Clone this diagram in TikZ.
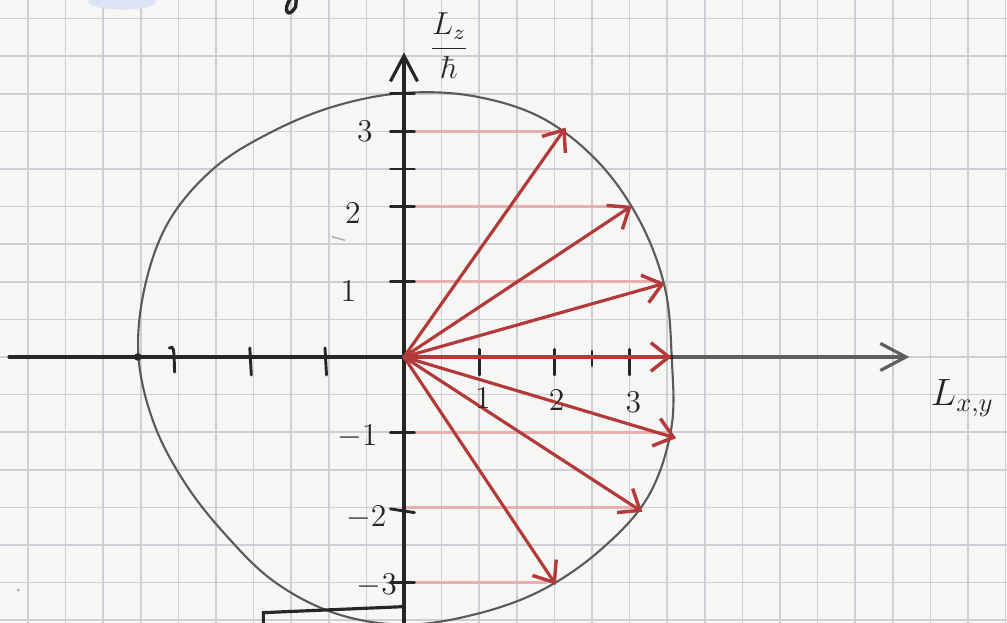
\documentclass[tikz,border=0pt]{standalone}
\usetikzlibrary{arrows.meta}
\definecolor{paper}{HTML}{F6F6F4}
\definecolor{gridc}{HTML}{CDCED6}
\definecolor{pencil}{HTML}{262626}
\definecolor{pencillight}{HTML}{5E5E5E}
\definecolor{circc}{HTML}{5A5A5A}
\definecolor{redv}{HTML}{B23A3A}
\definecolor{pinkl}{HTML}{E9AFAF}
\definecolor{bluesm}{HTML}{DCE3F4}
\tikzset{
  gridline/.style={gridc, line width=0.6pt},
  axisline/.style={pencil, line width=1.3pt, line cap=round},
  chev/.style={-{Straight Barb[length=3.4mm,width=3.6mm,line width=1.2pt]}},
  tickmark/.style={pencil, line width=1.1pt, line cap=round},
  vec/.style={redv, line width=1.2pt, line cap=round, -{Straight Barb[length=2.4mm,width=3.8mm,line width=1.3pt]}},
  proj/.style={pinkl, line width=1.1pt},
  ring/.style={circc, line width=0.8pt},
  lab/.style={pencil, inner sep=0pt, font=\large},
}
\begin{document}
\begin{tikzpicture}
\useasboundingbox (-5.372,-3.537) rectangle (8.019,4.747);
\clip (-5.372,-3.537) rectangle (8.019,4.747);
\fill[paper] (-5.372,-3.537) rectangle (8.019,4.747);
\draw[gridline] (-5.5,-4) grid[step=0.5] (8.5,5);

% faint marks
\fill[bluesm] (-3.75,4.72) ellipse (0.45 and 0.1);
\draw[pencil, line width=1.3pt] (-1.50,4.78) .. controls (-1.63,4.60) and (-1.53,4.49) .. (-1.44,4.66) -- (-1.43,4.78);
\draw[gray!60, line width=0.6pt] (-0.96,1.60) -- (-0.78,1.55);
\fill[gray!70] (-5.13,-3.1) circle (0.02);

% named points
\coordinate (O) at (0,0);
\coordinate (t3) at (2.15,3.05);
\coordinate (t2) at (3.03,2.01);
\coordinate (t1) at (3.47,0.98);
\coordinate (t0) at (3.56,0);
\coordinate (m1) at (3.62,-1.08);
\coordinate (m2) at (3.17,-2.06);
\coordinate (m3) at (2.02,-3.03);
\coordinate (p3) at (0,3);
\coordinate (p2) at (0,2);
\coordinate (p1) at (0,1);
\coordinate (q1) at (0,-1);
\coordinate (q2) at (0,-2);
\coordinate (q3) at (0,-3);
\coordinate (ybot) at (0,-3.6);
\coordinate (ytop) at (0,4.05);
\coordinate (xleft) at (-5.25,0);
\coordinate (xmid) at (3.6,0);
\coordinate (xright) at (6.72,0);

% projection lines
\draw[proj] (p3) -- (1.95,3);
\draw[proj] (p2) -- (2.9,2);
\draw[proj] (p1) -- (3.4,1);
\draw[proj] (q1) -- (3.5,-1);
\draw[proj] (q2) -- (3.05,-2);
\draw[proj] (q3) -- (1.9,-3);

% circle of length sqrt(12), hand drawn
\draw[ring] plot[smooth cycle, tension=0.6] coordinates {
 (0:3.56) (15:3.59) (30:3.62) (45:3.66) (60:3.67) (75:3.59) (90:3.51) (105:3.46)
 (120:3.47) (135:3.56) (150:3.61) (165:3.57) (180:3.53) (195:3.44) (210:3.36) (225:3.35)
 (240:3.45) (255:3.53) (270:3.56) (285:3.55) (300:3.6) (315:3.66) (330:3.74) (345:3.68)};

% axes
\draw[axisline, chev] (ybot) -- (ytop);
\draw[axisline] (xleft) -- (xmid);
\draw[axisline, pencillight, chev] (xmid) -- (xright);

% ticks on L_z axis
\foreach \yy in {3.5,3,2.5,2,1,-1,-3} \draw[tickmark] (-0.18,\yy) -- (0.14,\yy);
\draw[tickmark] (-0.18,-2.02) -- (0.14,-2.07);
% ticks on L_xy axis
\foreach \xx in {1,2,3} \draw[tickmark] (\xx,0.1) -- (\xx,-0.24);
\draw[tickmark, line width=0.7pt] (2.5,0.08) -- (2.5,-0.12);
\foreach \xx in {-1.05,-2.05} \draw[tickmark] (\xx,0.12) -- (\xx+0.02,-0.24);
\draw[tickmark] (-3.12,0.12) .. controls (-3.06,0.14) .. (-3.05,-0.2);
\fill[pencil] (-3.54,0) circle (0.05);

% vectors
\draw[vec] (O) -- (t3);
\draw[vec] (O) -- (t2);
\draw[vec] (O) -- (t1);
\draw[vec] (O) -- (t0);
\draw[vec] (O) -- (m1);
\draw[vec] (O) -- (m2);
\draw[vec] (O) -- (m3);

% bottom-left partial box
\coordinate (b1) at (-1.87,-3.40);
\coordinate (b2) at (0,-3.32);
\coordinate (b0) at (-1.87,-3.6);
\draw[axisline, line width=1.2pt] (b0) -- (b1) -- (b2);

% labels
\node[lab] (l3) at (-0.52,3.0) {3};
\node[lab] (l2) at (-0.68,1.92) {2};
\node[lab] (l1) at (-0.74,0.88) {1};
\node[lab] (lm1) at (-0.62,-1.06) {$-1$};
\node[lab] (lm2) at (-0.5,-2.14) {$-2$};
\node[lab] (lm3) at (-0.36,-3.04) {$-3$};
\node[lab] (x1) at (1.05,-0.55) {1};
\node[lab] (x2) at (2.03,-0.57) {2};
\node[lab] (x3) at (3.05,-0.6) {3};
\node[lab, font=\large] (ylab) at (0.6,4.14) {$\displaystyle\frac{L_z}{\hbar}$};
\node[lab, font=\Large, anchor=west] (xlab) at (7.0,-0.55) {$L_{x,y}$};
\end{tikzpicture}
\end{document}
